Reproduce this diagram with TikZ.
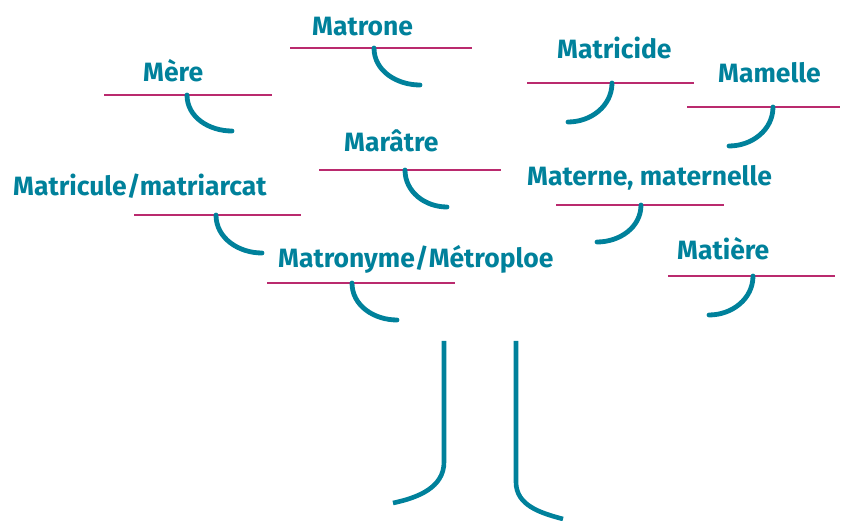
\documentclass[tikz,border=0pt]{standalone}
\usepackage{fontspec}
\setmainfont{Fira Sans}
\definecolor{teal1}{HTML}{00819B}
\definecolor{mag1}{HTML}{BA2A6E}
\begin{document}
\begin{tikzpicture}[x=1pt,y=-1pt,
  word/.style={anchor=base west,inner sep=0pt,text=teal1,font=\fontsize{26.5}{30}\selectfont\bfseries},
  bar/.style={draw=mag1,line width=2.8pt},
  hook/.style={draw=teal1,line width=4.8pt,line cap=round},
  trunk/.style={draw=teal1,line width=4.6pt}]
\useasboundingbox (0,0) rectangle (844,521);
\newcommand{\leafL}[9]{%
  \node[word] (#1) at (#3,#4) {#2};
  \draw[bar] (#5,#7) -- (#6,#7);
  \draw[hook] (#8,#7) to[out=-90,in=180] (#9);
}
\newcommand{\leafR}[9]{%
  \node[word] (#1) at (#3,#4) {#2};
  \draw[bar] (#5,#7) -- (#6,#7);
  \draw[hook] (#8,#7) to[out=-90,in=0] (#9);
}
\leafL{mere}{Mère}{143}{82}{104}{272}{95}{187}{232,131}
\leafL{matrone}{Matrone}{312}{36}{290}{472}{48}{374}{420,85}
\leafR{matricide}{Matricide}{557}{59}{527}{694}{83}{612}{568,122}
\leafR{mamelle}{Mamelle}{718}{83}{687}{840}{107}{773}{729,146}
\leafL{maratre}{Marâtre}{344}{152}{319}{501}{170}{405}{447,207}
\leafL{matricule}{Matricule/matriarcat}{13}{196}{134}{301}{215}{216}{262,253}
\leafR{materne}{Materne, maternelle}{527}{186}{556}{724}{205}{641}{597,242}
\leafL{matronyme}{Matronyme/Métroploe}{278}{268}{267}{455}{283}{352}{397,320}
\leafR{matiere}{Matière}{677}{260}{668}{835}{276}{753}{709,315}
% trunk
\coordinate (lt) at (444,341);
\coordinate (le) at (393,503);
\coordinate (rt) at (516,341);
\coordinate (re) at (563,519);
\draw[trunk] (lt) -- (444,462) to[out=-90,in=12] (le);
\draw[trunk] (rt) -- (516,482) to[out=-90,in=165] (re);
\end{tikzpicture}
\end{document}
